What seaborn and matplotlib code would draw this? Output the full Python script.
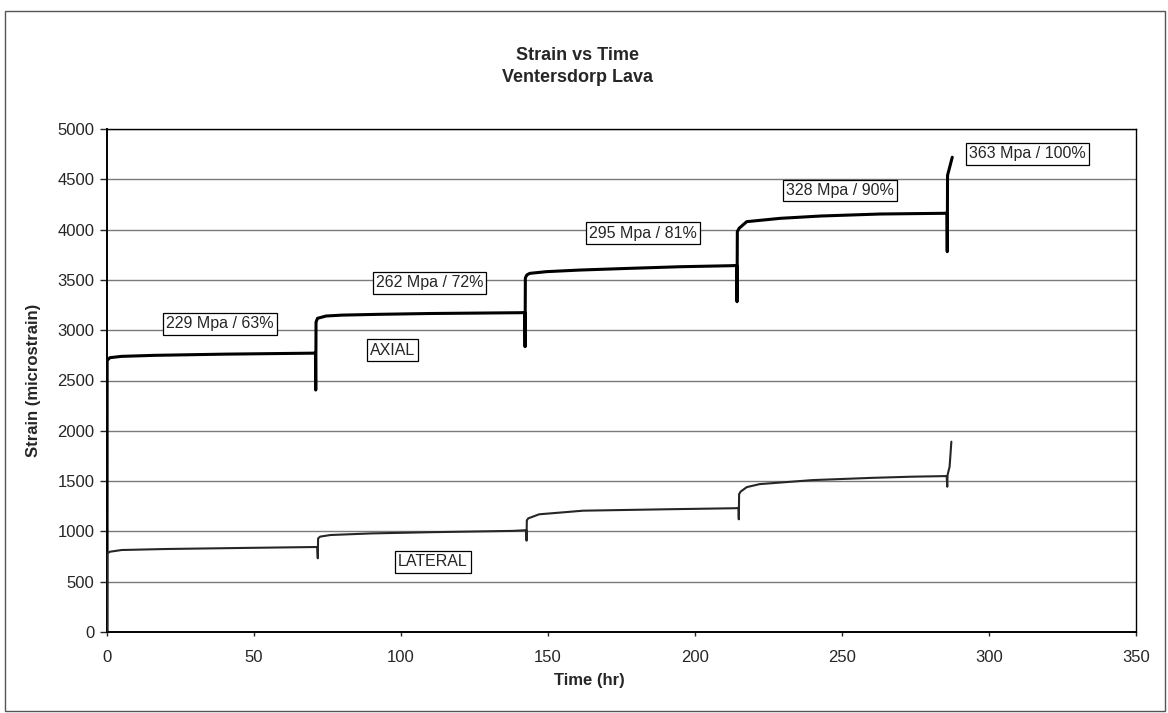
import matplotlib
matplotlib.use("Agg")
import matplotlib.pyplot as plt
from matplotlib.patches import Rectangle
import seaborn as sns
import pandas as pd

# Creep test record: strain readings per load stage (time in hours)
axial_time = [0, 0.05, 1, 5, 16, 40, 70.9,
              71.0, 71.1, 71.6, 74.5, 80, 92.7, 110, 141, 142.1,
              142.2, 142.3, 142.8, 143.8, 149.5, 160.9, 177.9, 195, 212, 214.2,
              214.3, 214.4, 215.0, 217.6, 229, 242.7, 263, 284.6, 285.7,
              285.8, 285.9, 286.8, 287.5]
axial_strain = [0, 2700, 2727, 2740, 2750, 2762, 2772,
                2405, 3080, 3118, 3141, 3150, 3158, 3166, 3174, 3176,
                2836, 3520, 3549, 3565, 3582, 3598, 3615, 3631, 3641, 3643,
                3283, 3980, 4013, 4079, 4112, 4135, 4155, 4162, 4164,
                3780, 4540, 4640, 4719]

lateral_time = [0, 0.05, 1, 5, 20, 45, 71.5,
                71.7, 71.8, 72.5, 76, 90, 110, 138, 142.6,
                142.7, 142.8, 143.3, 147, 162, 190.5, 213, 214.8,
                214.9, 215.0, 215.5, 217.6, 222, 240, 260, 274, 285.6,
                285.8, 285.9, 286.6, 287.2]
lateral_strain = [0, 780, 798, 815, 825, 835, 845,
                  733, 930, 948, 964, 980, 992, 1005, 1012,
                  908, 1110, 1130, 1170, 1206, 1220, 1230, 1232,
                  1120, 1370, 1395, 1440, 1470, 1510, 1532, 1544, 1550,
                  1444, 1560, 1644, 1892]

# Load-stage labels and their positions (time, strain)
stage_labels = ["229 Mpa / 63%", "262 Mpa / 72%", "295 Mpa / 81%",
                "328 Mpa / 90%", "363 Mpa / 100%"]
stage_label_x = [38.5, 109.7, 182.3, 249.4, 313.2]
stage_label_y = [3062, 3470, 3966, 4390, 4752]

series_names = ["AXIAL", "LATERAL"]
series_label_x = [97.1, 110.8]
series_label_y = [2803, 696]

x_ticks = [0, 50, 100, 150, 200, 250, 300, 350]
y_ticks = [0, 500, 1000, 1500, 2000, 2500, 3000, 3500, 4000, 4500, 5000]

sns.set_style("white")
plt.rcParams["font.family"] = ["Liberation Sans", "DejaVu Sans"]

W, H = 1168, 713
fig = plt.figure(figsize=(W / 100, H / 100), dpi=100)
ax = fig.add_axes([107 / W, 1 - 632 / H, (1136 - 107) / W, (632 - 129) / H])

axial_df = pd.DataFrame({"t": axial_time, "strain": axial_strain})
lateral_df = pd.DataFrame({"t": lateral_time, "strain": lateral_strain})

sns.lineplot(data=axial_df, x="t", y="strain", sort=False, estimator=None,
             color="black", lw=2.2, ax=ax, zorder=4)
sns.lineplot(data=lateral_df, x="t", y="strain", sort=False, estimator=None,
             color="#262626", lw=1.5, ax=ax, zorder=4)

ax.set_xlim(0, 350)
ax.set_ylim(0, 5000)
ax.set_xticks(x_ticks)
ax.set_yticks(y_ticks)
ax.set_xticklabels([str(v) for v in x_ticks], fontsize=12)
ax.set_yticklabels([str(v) for v in y_ticks], fontsize=12)
ax.yaxis.grid(True, color="#7a7a7a", lw=1.0)
ax.xaxis.grid(False)
ax.set_axisbelow(True)

for side in ["top", "right"]:
    ax.spines[side].set_visible(True)
    ax.spines[side].set_color("black")
    ax.spines[side].set_linewidth(1.0)
for side in ["left", "bottom"]:
    ax.spines[side].set_color("black")
    ax.spines[side].set_linewidth(1.4)

ax.tick_params(axis="y", direction="out", length=5, width=1, pad=4, left=True)
ax.tick_params(axis="x", direction="out", length=3, width=1, pad=10, bottom=True)

ax.set_xlabel("Time (hr)", fontsize=12, fontweight="bold")
ax.xaxis.set_label_coords((589 - 107) / (1136 - 107), -0.082)
ax.set_ylabel("Strain (microstrain)", fontsize=12, fontweight="bold", labelpad=12)

box = dict(boxstyle="square,pad=0.2", fc="white", ec="black", lw=0.9)
for label, lx, ly in zip(stage_labels, stage_label_x, stage_label_y):
    ax.text(lx, ly, label, fontsize=11.5, ha="center", va="center", bbox=box, zorder=5)
for label, lx, ly in zip(series_names, series_label_x, series_label_y):
    ax.text(lx, ly, label, fontsize=11.5, ha="center", va="center", bbox=box, zorder=5)

fig.text(578 / W, 1 - 55 / H, "Strain vs Time",
         ha="center", va="center", fontsize=13, fontweight="bold")
fig.text(578 / W, 1 - 77 / H, "Ventersdorp Lava",
         ha="center", va="center", fontsize=13, fontweight="bold")

# Chart-area outline
fig.patches.append(Rectangle((5 / W, 1 - 711 / H), (1165 - 5) / W, (711 - 11) / H,
                             transform=fig.transFigure, fill=False,
                             ec="#555555", lw=1.0, zorder=0))

fig.savefig("out.png", dpi=100)
